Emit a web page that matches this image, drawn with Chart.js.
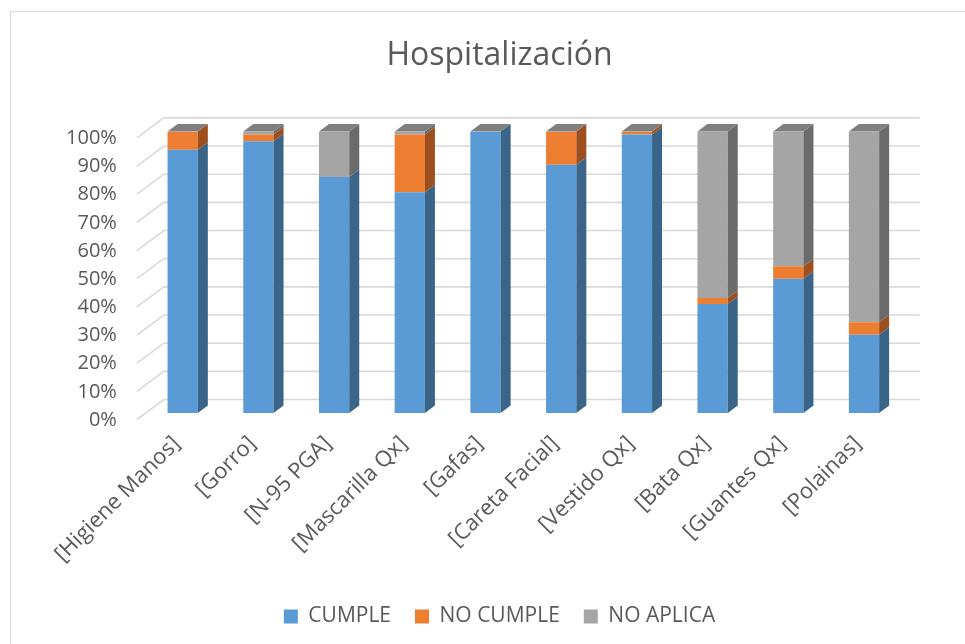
<!DOCTYPE html>
<html>
<head>
<meta charset="utf-8">
<script src="https://cdn.jsdelivr.net/npm/chart.js@4/dist/chart.umd.min.js"></script>
<style>
  html, body { margin: 0; padding: 0; background: #fff; overflow: hidden; }
  #wrap { position: absolute; left: 10px; top: 11px; width: 990px; height: 650px;
          border-left: 1px solid #d9d9d9; border-top: 1px solid #d9d9d9; }
  canvas { display: block; }
</style>
</head>
<body>
<div id="wrap"><canvas id="chart" width="977" height="632"></canvas></div>
<script>
const categories = ['[Higiene Manos]', '[Gorro]', '[N-95 PGA]', '[Mascarilla Qx]', '[Gafas]',
  '[Careta Facial]', '[Vestido Qx]', '[Bata Qx]', '[Guantes Qx]', '[Polainas]'];
const cumple   = [93.5, 96.5, 83.8, 78.4, 100, 88.2, 98.9, 38.7, 47.7, 27.8];
const noCumple = [6.5, 2.4, 0, 20.5, 0, 11.8, 1.1, 2.1, 4.4, 4.4];
const noAplica = [0, 1.1, 16.2, 1.1, 0, 0, 0, 59.2, 47.9, 67.8];
const yTicks = [0, 10, 20, 30, 40, 50, 60, 70, 80, 90, 100];

const textColor = '#595959';
const font = 'Open Sans';

// fake 3D: back wall grid, side faces and tops
const depthX = 10, depthY = 7.5;
const sideColors = ['#3a6589', '#9d4f1f', '#6b6b6b'];
const topColor = '#7f7f7f';

const bar3d = {
  id: 'bar3d',
  beforeDatasetsDraw(chart) {
    const { ctx, chartArea: a, scales: { y } } = chart;
    ctx.save();
    ctx.strokeStyle = '#d9d9d9';
    ctx.lineWidth = 1.6;
    yTicks.forEach(v => {
      const py = y.getPixelForValue(v);
      ctx.beginPath();
      ctx.moveTo(a.left - 8, py + 6.5);
      ctx.lineTo(a.left + 19, py - 13.5);
      ctx.lineTo(a.right + 18, py - 13.5);
      ctx.stroke();
    });
    ctx.restore();
  },
  afterDatasetsDraw(chart) {
    const { ctx } = chart;
    const n = chart.data.datasets.length;
    ctx.save();
    for (let d = 0; d < n; d++) {
      const meta = chart.getDatasetMeta(d);
      meta.data.forEach((bar, i) => {
        const p = bar.getProps(['x', 'y', 'base', 'width'], true);
        const r = p.x + p.width / 2, l = p.x - p.width / 2;
        const top = Math.min(p.y, p.base), bot = Math.max(p.y, p.base);
        if (bot - top > 0.01) {
          ctx.fillStyle = sideColors[d];
          ctx.beginPath();
          ctx.moveTo(r, bot);
          ctx.lineTo(r + depthX, bot - depthY);
          ctx.lineTo(r + depthX, top - depthY);
          ctx.lineTo(r, top);
          ctx.closePath();
          ctx.fill();
        }
        if (d === n - 1) {
          ctx.fillStyle = topColor;
          ctx.beginPath();
          ctx.moveTo(l, top);
          ctx.lineTo(l + depthX, top - depthY);
          ctx.lineTo(r + depthX, top - depthY);
          ctx.lineTo(r, top);
          ctx.closePath();
          ctx.fill();
        }
      });
    }
    ctx.restore();
  }
};

new Chart(document.getElementById('chart'), {
  type: 'bar',
  data: {
    labels: categories,
    datasets: [
      { label: 'CUMPLE', data: cumple, backgroundColor: '#5b9bd5' },
      { label: 'NO CUMPLE', data: noCumple, backgroundColor: '#ed7d31' },
      { label: 'NO APLICA', data: noAplica, backgroundColor: '#a5a5a5' }
    ]
  },
  options: {
    responsive: false,
    animation: false,
    devicePixelRatio: 1,
    layout: { padding: { left: 20, right: 20, top: 25, bottom: 7 } },
    datasets: { bar: { categoryPercentage: 1, barPercentage: 0.4, borderWidth: 0 } },
    plugins: {
      title: {
        display: true,
        text: 'Hospitalización',
        color: textColor,
        font: { family: font, size: 32, weight: 'normal' },
        padding: { top: 0, bottom: 56 }
      },
      legend: {
        position: 'bottom',
        labels: {
          color: textColor,
          font: { family: font, size: 21 },
          boxWidth: 14, boxHeight: 14, padding: 24
        }
      },
      tooltip: { enabled: false }
    },
    scales: {
      x: {
        stacked: true,
        grid: { display: false },
        border: { display: false },
        ticks: {
          color: textColor, font: { family: font, size: 22 },
          minRotation: 45, maxRotation: 45, autoSkip: false, padding: 10, labelOffset: -6
        },
        afterFit(s) { s.height = 169; }
      },
      y: {
        stacked: true,
        min: 0, max: 100,
        grid: { display: false },
        border: { display: false },
        ticks: {
          color: textColor, font: { family: font, size: 20 },
          stepSize: 10, padding: 20, labelOffset: 7, autoSkip: false,
          callback: v => v + '%'
        },
        afterFit(s) { s.width = 113.85; }
      },
      // empty right axis, only keeps room right of the plot
      yRight: {
        position: 'right',
        min: 0, max: 100,
        grid: { display: false },
        border: { display: false },
        ticks: { display: false },
        afterFit(s) { s.width = 66.15; }
      }
    }
  },
  plugins: [bar3d]
});
</script>
</body>
</html>
